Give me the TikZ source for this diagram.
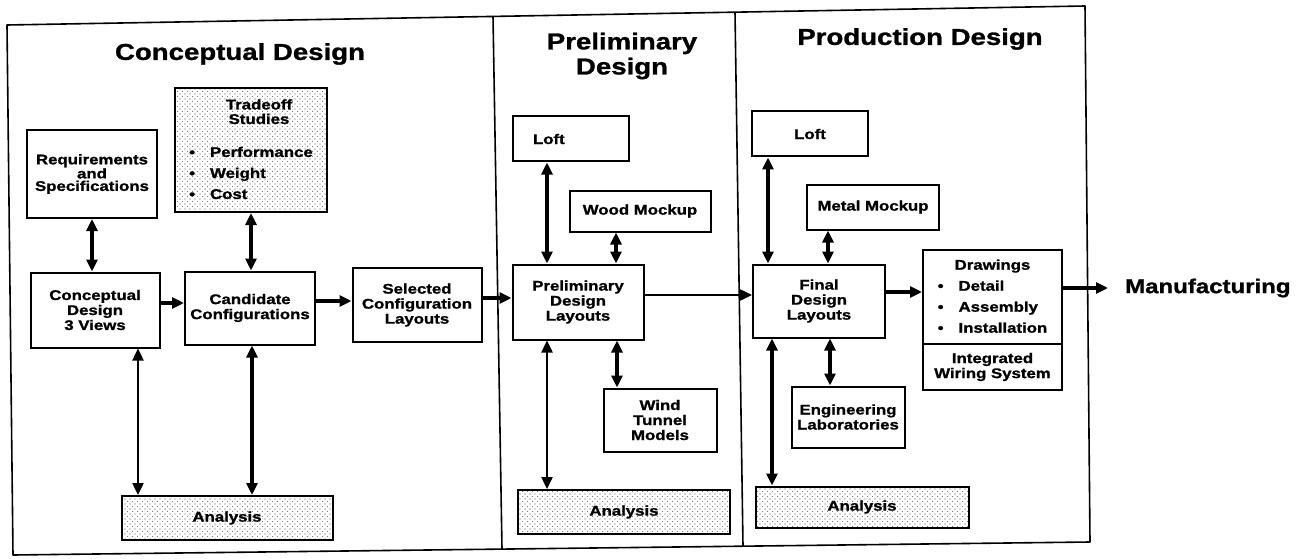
\documentclass[tikz,border=0pt]{standalone}
\usepackage{fontspec}
\setmainfont{Liberation Sans}[FakeStretch=1.2,BoldFeatures={FakeBold=1.2}]
\usetikzlibrary{arrows.meta,patterns,calc}
\pgfdeclarepatternformonly{sparsedots}{\pgfqpoint{-1pt}{-1pt}}{\pgfqpoint{4pt}{4pt}}{\pgfqpoint{5pt}{5pt}}%
  {\pgfpathcircle{\pgfqpoint{0pt}{0pt}}{.65pt}\pgfpathcircle{\pgfqpoint{2.5pt}{2.5pt}}{.5pt}\pgfusepath{fill}}
\begin{document}
\begin{tikzpicture}[x=1pt,y=-1pt,
  >={Triangle[length=12pt,width=11pt]},
  box/.style={draw,line width=2pt,inner sep=2pt,align=center,font=\fontsize{14}{15}\selectfont\bfseries},
  dotbox/.style={box,pattern=sparsedots,pattern color=black!65},
  dbl/.style={<->,line width=3.8pt},
  dblm/.style={<->,line width=2.4pt},
  sgl/.style={->,line width=3.8pt},
  sglm/.style={->,line width=2.4pt},
  ttl/.style={font=\fontsize{23}{25}\selectfont\bfseries,align=center},
  frameline/.style={line width=1.6pt,line join=round}
]
\useasboundingbox (0,0) rectangle (1304,559);

% frame and dividers
\draw[frameline] (7,25) -- (1085,6) -- (1090,542) -- (13,555) -- cycle;
\draw[frameline] (493,16) -- (502,549);
\draw[frameline] (735,12) -- (743,546);

% titles
\node[ttl] (t1) at (240,54) {Conceptual Design};
\node[ttl] (t2) at (622,56) {Preliminary\\Design};
\node[ttl] (t3) at (920,39) {Production Design};

% conceptual design
\node[box,minimum width=130pt,minimum height=88pt,font=\fontsize{14}{12.5}\selectfont\bfseries] (req) at (92,174) {Requirements\\and\\Specifications};
\node[dotbox,minimum width=152pt,minimum height=124pt] (trd) at (251,150)
  {\def\arraystretch{1.4}\begin{tabular}{@{}l@{}}
   \multicolumn{1}{@{}c@{}}{\hspace{16pt}Tradeoff}\\[-6.5pt]
   \multicolumn{1}{@{}c@{}}{\hspace{16pt}Studies}\\[12pt]
   \textbullet\hspace{15pt}Performance\\
   \textbullet\hspace{15pt}Weight\\
   \textbullet\hspace{15pt}Cost
   \end{tabular}};
\node[box,minimum width=129pt,minimum height=75pt] (cd3) at (95,310) {Conceptual\\Design\\3 Views};
\node[box,minimum width=130pt,minimum height=73pt] (cand) at (250,308) {Candidate\\Configurations};
\node[box,minimum width=129pt,minimum height=74pt] (sel) at (417,305) {Selected\\Configuration\\Layouts};
\node[dotbox,minimum width=211pt,minimum height=44pt] (an1) at (227,518) {Analysis};

% preliminary design
\node[box,minimum width=116pt,minimum height=45pt,inner xsep=20pt,text width=76pt,align=left] (lo1) at (571,139) {Loft};
\node[box,minimum width=141pt,minimum height=41pt] (wood) at (640,211) {Wood Mockup};
\node[box,minimum width=131pt,minimum height=75pt] (pdl) at (578,302) {Preliminary\\Design\\Layouts};
\node[box,minimum width=113pt,minimum height=63pt] (wind) at (660,420) {Wind\\Tunnel\\Models};
\node[dotbox,minimum width=212pt,minimum height=44pt] (an2) at (624,512) {Analysis};

% production design
\node[box,minimum width=116pt,minimum height=45pt] (lo2) at (810,134) {Loft};
\node[box,minimum width=132pt,minimum height=45pt] (metal) at (873,207) {Metal Mockup};
\node[box,minimum width=132pt,minimum height=73pt] (fdl) at (819,301) {Final\\Design\\Layouts};
\node[box,minimum width=113pt,minimum height=61pt] (eng) at (848,417) {Engineering\\Laboratories};
\node[dotbox,minimum width=213pt,minimum height=41pt] (an3) at (862,507) {Analysis};
\node[box,minimum width=139pt,minimum height=94pt] (drw) at (992.5,297)
  {\def\arraystretch{1.4}\begin{tabular}{@{}l@{}}
   \multicolumn{1}{@{}c@{}}{Drawings}\\
   \textbullet\hspace{15pt}Detail\\
   \textbullet\hspace{15pt}Assembly\\
   \textbullet\hspace{15pt}Installation
   \end{tabular}};
\node[box,minimum width=139pt,minimum height=46pt] (iws) at (992.5,367) {Integrated\\Wiring System};

\node[font=\fontsize{20}{22}\selectfont\bfseries,anchor=west,inner sep=2pt] (mfg) at (1123,288) {Manufacturing};
\coordinate (mfgin) at ([xshift=-15pt]mfg.west);

% connectors: conceptual
\draw[dbl] (req.south) -- (req.south |- cd3.north);
\draw[dbl] (trd.south) -- (trd.south |- cand.north);
\draw[sgl] ([yshift=7pt]cd3.east) -- ([yshift=7pt]cd3.east -| cand.west);
\draw[sgl] ([yshift=7pt]cand.east) -- ([yshift=7pt]cand.east -| sel.west);
\draw[sgl] ([yshift=7pt]sel.east) -- ([yshift=7pt]sel.east -| pdl.west);
\draw[dblm] ([xshift=43pt]cd3.south) -- ([xshift=43pt]cd3.south |- an1.north);
\draw[dbl] ([xshift=2pt]cand.south) -- ([xshift=2pt]cand.south |- an1.north);

% connectors: preliminary
\draw[dbl] ([xshift=-24pt]lo1.south) -- ([xshift=-24pt]lo1.south |- pdl.north);
\draw[dbl] ([xshift=-24pt]wood.south) -- ([xshift=-24pt]wood.south |- pdl.north);
\draw[dbl] ([xshift=39pt]pdl.south) -- ([xshift=39pt]pdl.south |- wind.north);
\draw[dblm] ([xshift=-31pt]pdl.south) -- ([xshift=-31pt]pdl.south |- an2.north);
\draw[sglm] ([yshift=7pt]pdl.east) -- ([yshift=7pt]pdl.east -| fdl.west);

% connectors: production
\draw[dbl] ([xshift=-42pt]lo2.south) -- ([xshift=-42pt]lo2.south |- fdl.north);
\draw[dbl] ([xshift=-45pt]metal.south) -- ([xshift=-45pt]metal.south |- fdl.north);
\draw[dbl] ([xshift=11pt]fdl.south) -- ([xshift=11pt]fdl.south |- eng.north);
\draw[dbl] ([xshift=-47pt]fdl.south) -- ([xshift=-47pt]fdl.south |- an3.north);
\draw[sgl] ([yshift=9pt]fdl.east) -- ([yshift=9pt]fdl.east -| drw.west);
\draw[sgl] ([yshift=9pt]drw.east) -- ([yshift=9pt]drw.east -| mfgin);
\end{tikzpicture}
\end{document}
